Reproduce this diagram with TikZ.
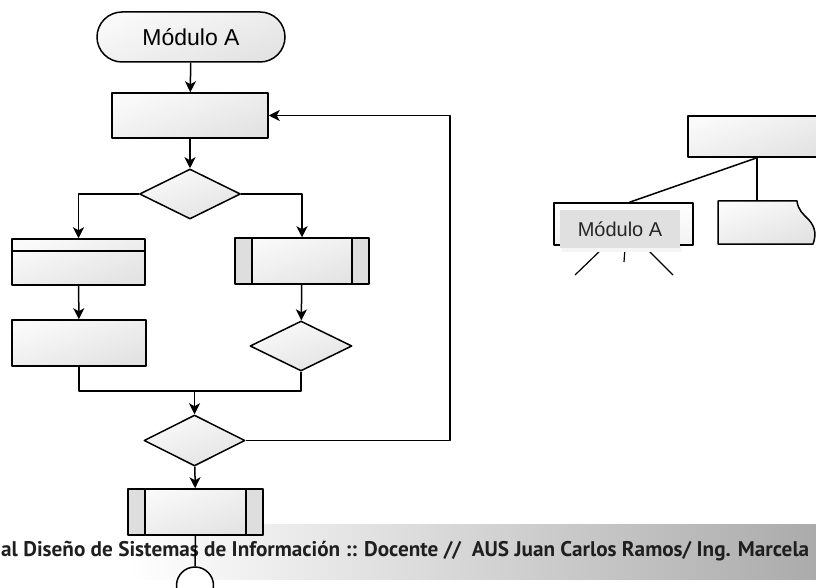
\documentclass[tikz,border=0pt]{standalone}
\usepackage{fontspec}
\setmainfont{Liberation Sans}
\newfontfamily\pie{PT Sans}
\usetikzlibrary{arrows.meta,shapes.geometric}
\begin{document}
\begin{tikzpicture}[x=1pt,y=-1pt, line join=round,
	linea/.style={line width=1.5pt},
	flecha/.style={linea,-{Stealth[length=11pt,width=11pt,inset=3pt]}},
	relleno/.style={top color=gray!4, bottom color=gray!22, shading angle=20},
	term/.style={draw,linea,relleno,rounded corners=25pt,minimum width=188pt,minimum height=50pt,inner sep=0pt,font=\fontsize{23}{26}\selectfont},
	proc/.style={draw,linea,relleno,minimum width=#1,minimum height=46pt,inner sep=0pt},
	proc/.default=134pt,
	decis/.style={draw,linea,relleno,diamond,minimum width=101pt,minimum height=50pt,inner sep=0pt},
	franja/.style={path picture={\draw[linea] ([yshift=-12pt]path picture bounding box.north west) -- ([yshift=-12pt]path picture bounding box.north east);}},
	predef/.style={path picture={
		\fill[gray!26] (path picture bounding box.north west) rectangle ([xshift=17pt]path picture bounding box.south west);
		\fill[gray!26] (path picture bounding box.north east) rectangle ([xshift=-17pt]path picture bounding box.south east);
		\draw[linea] ([xshift=17pt]path picture bounding box.north west) -- ([xshift=17pt]path picture bounding box.south west);
		\draw[linea] ([xshift=-17pt]path picture bounding box.north east) -- ([xshift=-17pt]path picture bounding box.south east);}},
	conector/.style={draw,linea,fill=white,circle,minimum size=37pt,inner sep=0pt}]
	\useasboundingbox (0,0) rectangle (816,588);
	\clip (0,0) rectangle (816,588);
	% franja del pie
	\shade[left color=white, right color=gray!66] (128,524) rectangle (816,579);
	\node[anchor=west,inner sep=0pt,text=black!88,font=\pie\bfseries\fontsize{21.2}{24}\selectfont] (pie) at (1,551)
		{al Diseño de Sistemas de Información :: Docente // \ AUS Juan Carlos Ramos/ Ing. Marcela};
	% diagrama de flujo
	\node[term] (inicio) at (191,37) {Módulo A};
	\node[proc=156pt,minimum height=45pt] (p1) at (190,115.5) {};
	\node[decis] (d1) at (190,194) {};
	\node[proc=133pt,franja] (p2) at (78.5,262) {};
	\node[proc,predef] (s1) at (302,261) {};
	\node[proc] (p3) at (79,343) {};
	\node[decis,minimum width=102pt] (d2) at (301,346) {};
	\node[decis,minimum height=51pt] (d3) at (194.5,440.5) {};
	\node[proc=135pt,predef] (s2) at (195.5,512) {};
	\node[conector] (fin) at (195,585.5) {};
	\coordinate (union) at (194.5,391);
	\coordinate (retorno) at (450,440.5);
	\draw[flecha] (inicio) -- (p1);
	\draw[flecha] (p1) -- (d1);
	\draw[flecha] (d1.west) -| (p2.north);
	\draw[flecha] (d1.east) -| (s1.north);
	\draw[flecha] (p2) -- (p3);
	\draw[flecha] (s1) -- (d2);
	\draw[linea] (p3.south) |- (union) -| (d2.south);
	\draw[flecha] (union) -- (d3.north);
	\draw[flecha] (d3.east) -- (retorno) |- (p1.east);
	\draw[flecha] (d3) -- (s2);
	\draw[linea] (s2) -- (fin);
	% diagrama jerarquico
	\node[proc=138pt,minimum height=41pt] (raiz) at (757,136.5) {};
	\node[proc=139pt,minimum height=42pt,top color=white,bottom color=gray!10] (modA) at (623.5,224) {};
	\coordinate (docnorte) at (757,201);
	\draw[linea] (raiz.south) -- ([xshift=6pt]modA.north);
	\draw[linea] (raiz.south) -- (docnorte);
	\draw[linea,relleno] (718,201) -- (797,201) .. controls (798,210) and (803,214) .. (809,220)
		.. controls (816,228) and (816,236) .. (813,244) -- (718,244) -- cycle;
	\coordinate (h1) at (575,275); \coordinate (h2) at (624,262); \coordinate (h3) at (673,275);
	\draw[line width=1.2pt] (603,248) -- (h1);
	\draw[line width=1.2pt] (625,248) -- (h2);
	\draw[line width=1.2pt] (646,248) -- (h3);
	\fill[gray!8] (562,247) rectangle (682,252);
	\node[fill=gray!24,minimum width=120pt,minimum height=38pt,inner sep=0pt,text=black!85,font=\fontsize{20}{24}\selectfont] (etiqueta) at (620,229) {Módulo A};
\end{tikzpicture}
\end{document}
